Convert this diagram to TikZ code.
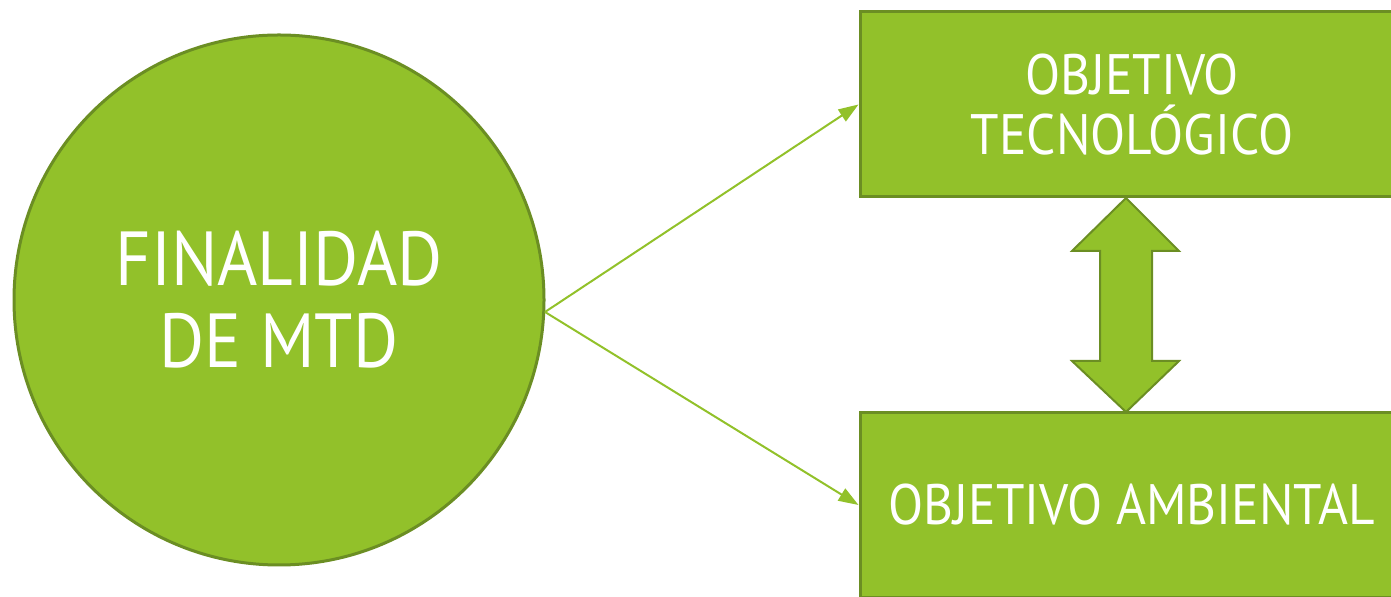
\documentclass[tikz,border=0pt]{standalone}
\usepackage{fontspec}
\setmainfont[FakeStretch=0.9]{PT Sans}
\usetikzlibrary{arrows.meta}

\definecolor{hojaverde}{HTML}{92C12A}
\definecolor{bordeverde}{HTML}{6B8E23}

\tikzset{
  caja/.style={draw=bordeverde, line width=1.5pt, fill=hojaverde, text=white,
    minimum width=272pt, minimum height=92.5pt, inner sep=0pt, align=center,
    font=\fontsize{28.5}{30}\selectfont},
  flecha/.style={draw=hojaverde, line width=1pt, -{Triangle[length=10pt,width=7pt]}}
}

\begin{document}
\begin{tikzpicture}[x=0.5pt, y=-0.5pt]
\useasboundingbox (0,0) rectangle (1391,597);
\clip (0,0) rectangle (1391,597);
% circulo
\node[circle, draw=bordeverde, line width=1.5pt, fill=hojaverde, text=white,
  minimum size=265pt, inner sep=0pt, align=center,
  font=\fontsize{38.3}{41}\selectfont] (fin) at (279,300) {FINALIDAD\\DE MTD};
% cajas
\node[caja] (tec) at (1132,104.5) {OBJETIVO\\TECNOLÓGICO};
\node[caja] (amb) at (1132,505) {OBJETIVO AMBIENTAL};
% flechas
\coordinate (src) at (545,312);
\draw[flecha] (src) -- (tec.west);
\draw[flecha] (src) -- (amb.west);
% doble flecha
\filldraw[fill=hojaverde, draw=bordeverde, line width=1pt, line join=miter]
  (1126,198) -- (1179,251) -- (1152,251) -- (1152,361) -- (1179,361)
  -- (1126,412) -- (1072,361) -- (1100,361) -- (1100,251) -- (1072,251) -- cycle;
\end{tikzpicture}
\end{document}
